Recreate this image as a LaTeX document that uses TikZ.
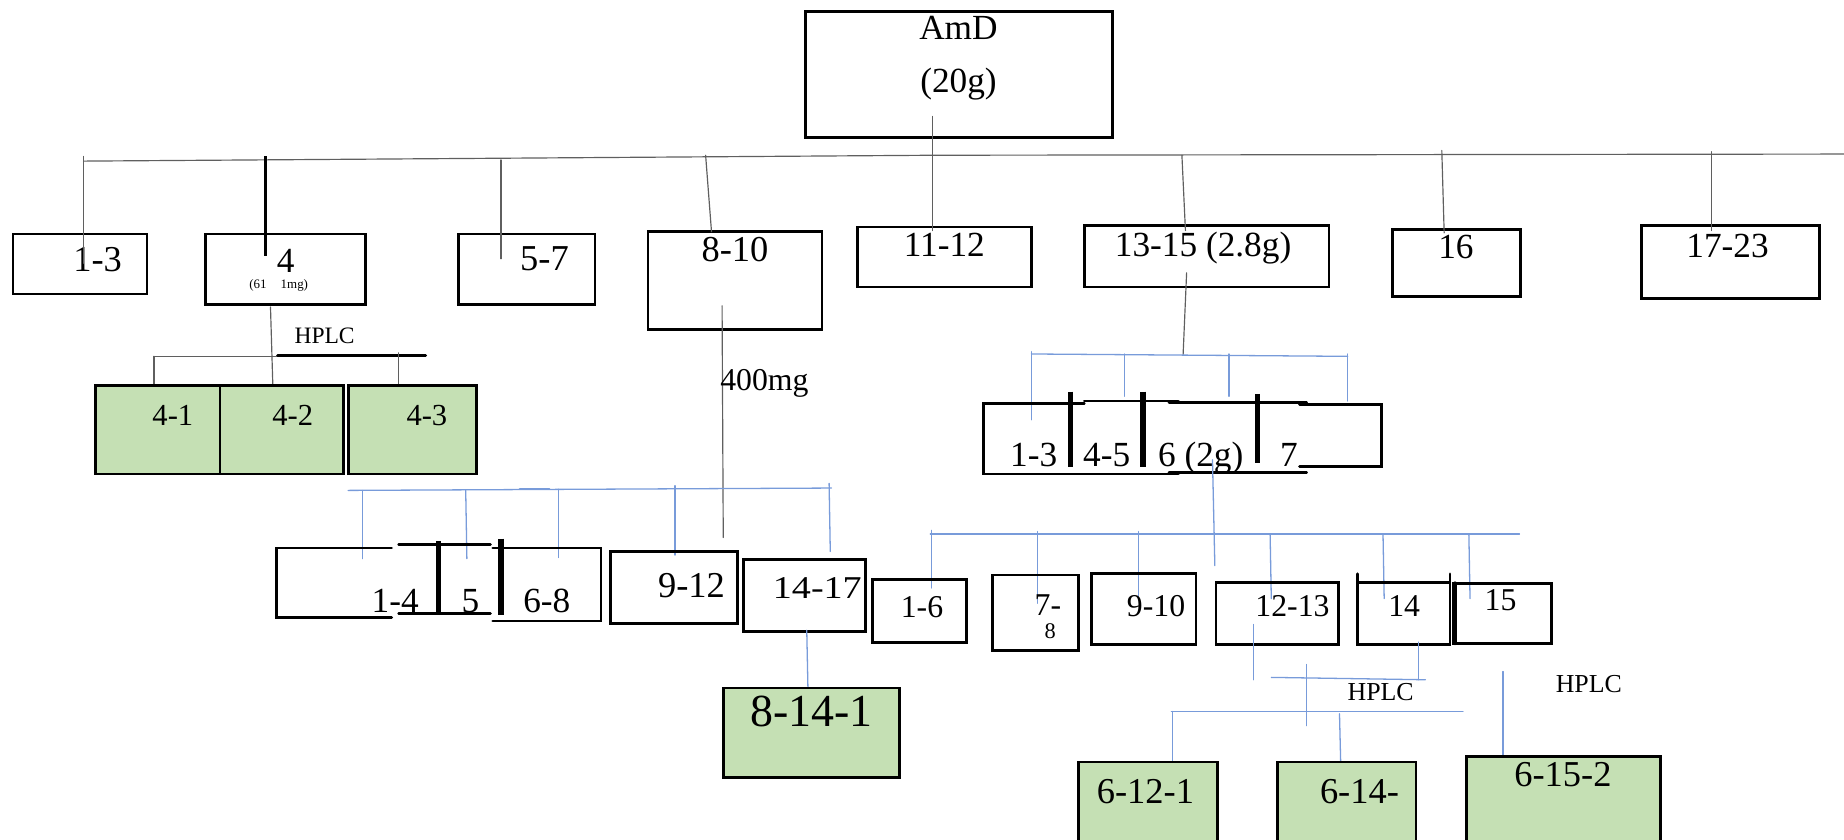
\documentclass[tikz,border=0pt]{standalone}
\usepackage{fontspec}
\setmainfont{Liberation Serif}
\usetikzlibrary{fit}
\definecolor{leaf}{RGB}{197,224,180}
\definecolor{link}{RGB}{120,155,218}
\definecolor{wire}{RGB}{95,95,95}
\tikzset{
  box/.style={draw=black, line width=2.4pt, inner sep=0pt, outer sep=0pt},
  leafbox/.style={box, fill=leaf},
  edgeline/.style={draw=black, line width=2.4pt},
  divbar/.style={draw=black, line width=4.5pt, line cap=butt},
  fs/.style={inner sep=0pt, anchor=base, font=\fontsize{#1}{#1}\selectfont},
  wirel/.style={draw=wire, line width=1pt},
  bluel/.style={draw=link, line width=1.1pt},
}
\begin{document}
\begin{tikzpicture}[x=1pt,y=-1pt,line cap=round]
\useasboundingbox (0,0) rectangle (1568,714);
\clip (0,0) rectangle (1568,714);

% ---- root ----
\node[box, fit={(685,10)(946,117)}] (root) {};
\node[fs=30] (rootA) at (815,34) {AmD};
\node[fs=30] (rootB) at (815,79) {(20g)};

% ---- first split ----
\node[box, fit={(11,199)(125,250)}] (g13) {};
\node[fs=31] at (83,231) {1-3};
\node[box, fit={(175,199)(311,259)}] (g4) {};
\node[fs=30] at (243,232) {4};
\node[fs=11] at (237,245) {(61\hspace{12pt}1mg)};
\node[box, fit={(390,199)(506,259)}] (g57) {};
\node[fs=31] at (463,230) {5-7};
\node[box, fit={(551,197)(699,280)}] (g810) {};
\node[fs=31] at (625,222) {8-10};
\node[box, fit={(729,193)(877,244)}] (g1112) {};
\node[fs=30] at (803,218) {11-12};
\node[box, fit={(922,192)(1130,244)}] (g1315) {};
\node[fs=30] at (1023,218) {13-15 (2.8g)};
\node[box, fit={(1184,195)(1293,252)}] (g16) {};
\node[fs=30] at (1238,220) {16};
\node[box, fit={(1396,192)(1547,254)}] (g1723) {};
\node[fs=30] at (1469,219) {17-23};

% trunk
\coordinate (trunkL) at (71,137);
\coordinate (trunkM) at (795,132);
\coordinate (trunkR) at (1568,131);
\draw[wirel] (trunkL) -- (trunkM) -- (trunkR);
\draw[wirel] (793,99) -- (793,196);
\draw[wirel] (71,133) -- (71,224);
\draw[draw=black, line width=2.5pt, line cap=butt] (226,133) -- (226,218);
\draw[wirel] (426,136) -- (426,220);
\draw[wirel] (600,132) -- (605,197);
\draw[wirel] (1005,132) -- (1008,196);
\draw[wirel] (1226,128) -- (1228,198);
\draw[wirel] (1455,129) -- (1455,196);

% ---- fraction 4 ----
\draw[wirel] (230,261) -- (232,328);
\draw[wirel] (131,303) -- (236,303);
\draw[edgeline] (236,302) -- (362,302);
\draw[wirel] (131,303) -- (131,328);
\draw[wirel] (339,300) -- (339,327);
\node[fs=20] at (276,292) {HPLC};
\node[leafbox, fit={(81,328)(187,403)}] (f41) {};
\node[leafbox, fit={(187,328)(292,403)}] (f42) {};
\node[leafbox, fit={(296,328)(405,403)}] (f43) {};
\node[fs=26] at (147,362) {4-1};
\node[fs=26] at (249,362) {4-2};
\node[fs=26] at (363,362) {4-3};

% ---- fraction 8-10 ----
\draw[wirel] (614,260) -- (615,457);
\node[fs=27] at (650,332) {400mg};
\draw[bluel] (296,417) -- (707,415);
\draw[draw=link, line width=2pt] (442,416) -- (467,416);
\draw[bluel] (308,417) -- (308,475);
\draw[bluel] (396,417) -- (397,475);
\draw[bluel] (475,416) -- (475,474);
\draw[bluel] (574,413) -- (574,472);
\draw[bluel] (705,411) -- (706,469);

\draw[edgeline] (333,466) -- (235,466) -- (235,525) -- (333,525);
\draw[edgeline] (339,463) -- (417,463);
\draw[edgeline] (339,522) -- (417,522);
\draw[edgeline] (419,466) -- (511,466) -- (511,528) -- (419,528);
\draw[divbar] (373,460) -- (373,522);
\draw[divbar] (426,458) -- (426,523);
\node[fs=30] at (336,521) {1-4};
\node[fs=30] at (400,521) {5};
\node[fs=30] at (465,521) {6-8};

\node[box, fit={(519,469)(627,530)}] (s912) {};
\node[fs=31] at (588,508) {9-12};
\node[box, fit={(632,476)(736,537)}] (s1417) {};
\node[fs=27] at (695,509) {\scalebox{1.2}[1]{14-17}};
\draw[bluel] (686,536) -- (687,585);
\node[leafbox, fit={(615,585)(765,661)}] (f8141) {};
\node[fs=39] at (690,618) {8-14-1};

% ---- fraction 13-15 ----
\draw[wirel] (1009,232) -- (1006,302);
\draw[bluel] (877,301) -- (1146,303);
\draw[bluel] (877,299) -- (877,357);
\draw[bluel] (956,301) -- (956,337);
\draw[bluel] (1045,301) -- (1045,337);
\draw[bluel] (1146,301) -- (1146,341);

\draw[edgeline] (922,343) -- (836,343) -- (836,403) -- (1002,403);
\draw[edgeline] (922,341) -- (1002,341);
\draw[edgeline] (994,342) -- (1111,342);
\draw[edgeline] (994,402) -- (1111,402);
\draw[edgeline] (1105,344) -- (1175,344) -- (1175,397) -- (1105,397);
\draw[divbar] (910,333) -- (910,397);
\draw[divbar] (972,333) -- (972,397);
\draw[divbar] (1069,335) -- (1069,394);
\node[fs=30] at (879,397) {1-3};
\node[fs=30] at (941,397) {4-5};
\node[fs=30] at (1021,397) {6 (2g)};
\node[fs=30] at (1096,397) {7};

\draw[bluel] (1031,391) -- (1033,481);
\draw[bluel] (791,454) -- (1292,454);
\draw[bluel] (792,451) -- (792,500);
\draw[bluel] (882,452) -- (882,513);
\draw[bluel] (968,452) -- (968,508);
\draw[bluel] (1080,454) -- (1081,509);
\draw[bluel] (1176,454) -- (1177,509);
\draw[bluel] (1249,454) -- (1250,509);

\node[box, fit={(742,493)(822,546)}] (t16) {};
\node[fs=27] at (784,525) {1-6};
\node[box, fit={(844,489)(917,553)}] (t78) {};
\node[fs=27] at (891,523) {7-};
\node[fs=19] at (893,543) {8};
\node[box, fit={(928,488)(1017,548)}] (t910) {};
\node[fs=27] at (983,524) {9-10};
\node[box, fit={(1034,495)(1138,548)}] (t1213) {};
\node[fs=27] at (1099,524) {12-13};
\node[box, fit={(1154,495)(1233,548)}] (t14) {};
\draw[edgeline] (1154,488) -- (1154,495);
\draw[edgeline] (1233,488) -- (1233,495);
\node[fs=27] at (1194,524) {14};
\node[box, fit={(1236,496)(1319,547)}] (t15) {};
\draw[draw=black, line width=3.2pt] (1237,496) -- (1237,547);
\node[fs=27] at (1276,519) {15};

\draw[bluel] (1066,531) -- (1066,578);
\draw[bluel] (1081,576) -- (1212,578);
\draw[bluel] (1206,546) -- (1206,578);
\draw[bluel] (1111,565) -- (1111,617);
\node[fs=22] at (1174,596) {HPLC};
\draw[bluel] (996,605) -- (1244,605);
\draw[bluel] (997,605) -- (997,648);
\draw[bluel] (1139,607) -- (1140,648);
\draw[bluel] (1278,571) -- (1278,643);
\node[fs=22] at (1351,589) {HPLC};

\node[leafbox, fit={(917,648)(1035,718)}] (f6121) {};
\node[fs=31] at (974,683) {6-12-1};
\node[leafbox, fit={(1086,648)(1204,718)}] (f614) {};
\node[fs=31] at (1156,683) {6-14-};
\node[leafbox, fit={(1247,643)(1412,718)}] (f6152) {};
\node[fs=31] at (1329,669) {6-15-2};
\end{tikzpicture}
\end{document}
